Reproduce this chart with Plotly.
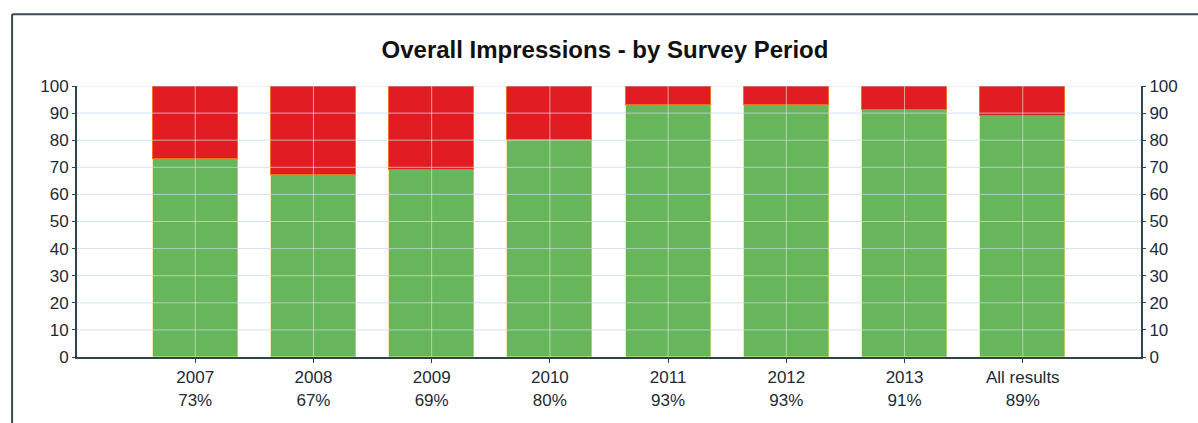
import plotly.graph_objects as go

# Survey periods and share of positive overall impressions (%)
periods = ["2007", "2008", "2009", "2010", "2011", "2012", "2013", "All results"]
positive = [73, 67, 69, 80, 93, 93, 91, 89]
negative = [100 - v for v in positive]
y_ticks = list(range(0, 101, 10))

positions = list(range(1, len(periods) + 1))
tick_text = [f"{p}<br>{v}%" for p, v in zip(periods, positive)]

GREEN = "#68b65b"
RED = "#e21c23"
AXIS = "#2c4450"
GRID = "rgba(200,215,230,0.75)"

fig = go.Figure()
fig.add_trace(go.Bar(
    x=positions, y=positive, width=0.72,
    marker=dict(color=GREEN, line=dict(color="#e8d870", width=0.6)),
    hoverinfo="skip",
))
fig.add_trace(go.Bar(
    x=positions, y=negative, width=0.72,
    marker=dict(color=RED, line=dict(color="#f0701c", width=1)),
    hoverinfo="skip",
))

# Grid drawn over the bars
shapes = []
for t in y_ticks[1:]:
    shapes.append(dict(type="line", xref="paper", yref="y", x0=0, x1=1, y0=t, y1=t,
                       line=dict(color=GRID, width=1), layer="above"))
for p in positions:
    shapes.append(dict(type="line", xref="x", yref="paper", x0=p, x1=p, y0=0, y1=1,
                       line=dict(color="rgba(215,225,210,0.7)", width=1), layer="above"))
# Outer frame
shapes.append(dict(type="line", xref="paper", yref="paper", x0=-0.061, x1=1.06, y0=1.265, y1=1.265,
                   line=dict(color="#3a4a50", width=2)))
shapes.append(dict(type="line", xref="paper", yref="paper", x0=-0.061, x1=-0.061, y0=1.265, y1=-0.25,
                   line=dict(color="#3a4a50", width=2)))

axis_font = dict(family="Liberation Sans, Arial, sans-serif", size=17, color="#1e2a34")

fig.update_layout(
    barmode="stack",
    width=1198, height=423,
    margin=dict(l=77, r=57, t=86, b=66),
    paper_bgcolor="white", plot_bgcolor="white",
    showlegend=False,
    bargap=0,
    title=dict(text="<b>Overall Impressions - by Survey Period</b>",
               x=0.505, xanchor="center", y=0.882, yanchor="middle",
               font=dict(family="Liberation Sans, Arial, sans-serif", size=24, color="#111")),
    shapes=shapes,
    xaxis=dict(range=[0, 9], tickmode="array", tickvals=positions, ticktext=tick_text,
               showgrid=False, zeroline=False, showline=True, linecolor=AXIS, linewidth=2,
               ticks="outside", ticklen=4, tickcolor=AXIS, tickfont=axis_font, fixedrange=True),
    yaxis=dict(range=[0, 100], tickmode="array", tickvals=y_ticks,
               showgrid=False, zeroline=False, showline=True, linecolor=AXIS, linewidth=2,
               ticks="outside", ticklen=3, tickcolor=AXIS, tickfont=axis_font, fixedrange=True),
    yaxis2=dict(range=[0, 100], tickmode="array", tickvals=y_ticks, overlaying="y", side="right",
                showgrid=False, zeroline=False, showline=True, linecolor=AXIS, linewidth=2,
                ticks="outside", ticklen=3, tickcolor=AXIS, tickfont=axis_font, fixedrange=True),
)
# Invisible trace to anchor the right-hand axis
fig.add_trace(go.Scatter(x=[positions[0]], y=[0], yaxis="y2", mode="markers",
                         marker=dict(opacity=0), hoverinfo="skip"))

fig.write_html("out.html")
